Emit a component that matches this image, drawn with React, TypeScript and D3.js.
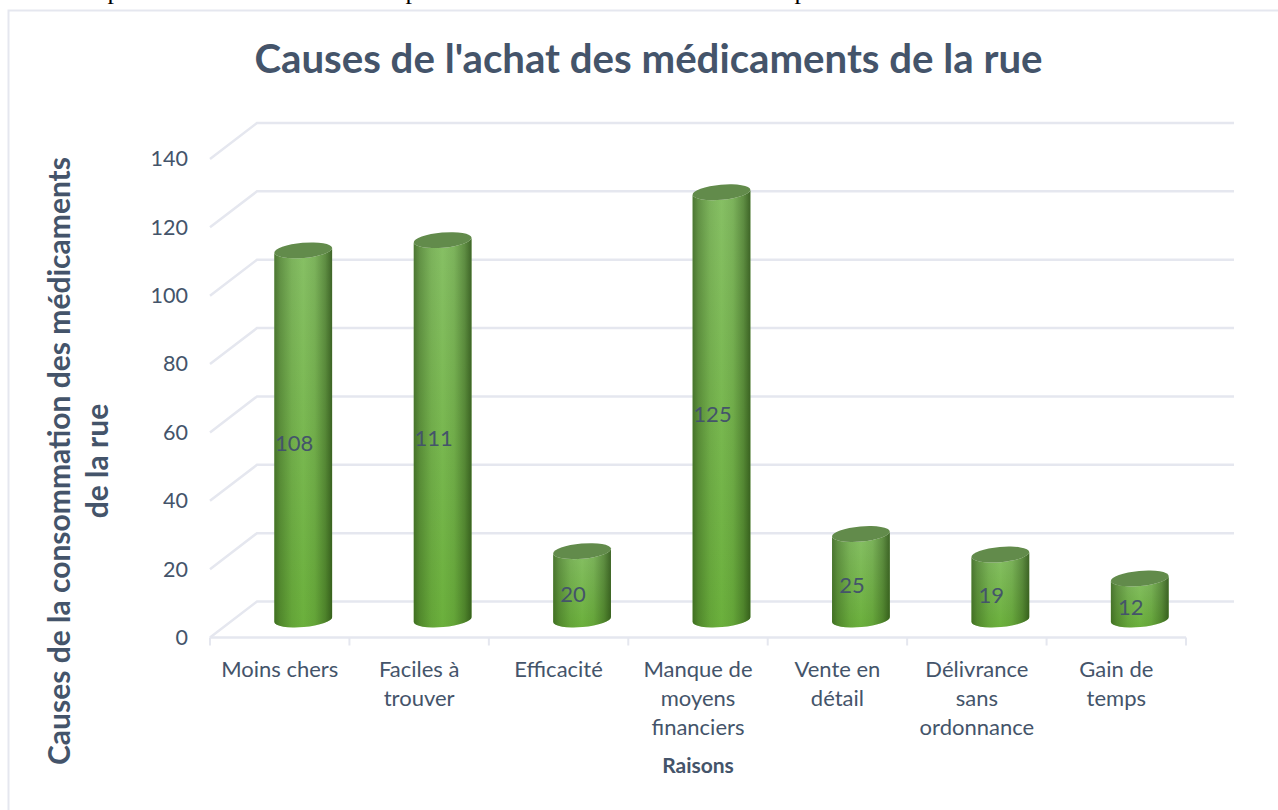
import React, { useEffect, useRef } from "react";
import * as d3 from "d3";

const categories = [
  "Moins chers",
  "Faciles à|trouver",
  "Efficacité",
  "Manque de|moyens|financiers",
  "Vente en|détail",
  "Délivrance|sans|ordonnance",
  "Gain de|temps",
];
const values = [108, 111, 20, 125, 25, 19, 12];
const yTicks = [0, 20, 40, 60, 80, 100, 120, 140];
const topFragments = [114, 412, 801];

const title = "Causes de l'achat des médicaments de la rue";
const yTitleLines = ["Causes de la consommation des médicaments", "de la rue"];
const xTitle = "Raisons";

const textColor = "#44546a";
const gridColor = "#e5e7ef";
const font = "Lato, Carlito, sans-serif";

export default function App() {
  const ref = useRef<SVGSVGElement>(null);

  useEffect(() => {
    draw();
  }, []);

  let draw = () => {
    let svg = d3.select(ref.current);
    svg.selectAll("*").remove();

    // front plane of the 3D box, the back wall is shifted by depth
    let left = 210;
    let right = 1186;
    let bottom = 637.5;
    let top = 159;
    let depthX = 47;
    let depthY = -36;

    let x = d3.scaleBand().domain(categories).range([left, right]);
    let y = d3.scaleLinear().domain([0, 140]).range([bottom, top]);

    let defs = svg.append("defs");
    let base = defs
      .append("linearGradient")
      .attr("id", "barBase")
      .attr("x1", 0)
      .attr("y1", 0)
      .attr("x2", 0)
      .attr("y2", 1);
    base.append("stop").attr("offset", "0%").attr("stop-color", "#87c065");
    base.append("stop").attr("offset", "100%").attr("stop-color", "#6bb03c");

    let shade = defs.append("linearGradient").attr("id", "barShade");
    [
      [0, 0.55],
      [0.1, 0.34],
      [0.3, 0.1],
      [0.5, 0],
      [0.7, 0.1],
      [0.88, 0.38],
      [1, 0.68],
    ].forEach(([o, a]) => {
      shade
        .append("stop")
        .attr("offset", o)
        .attr("stop-color", "#1d3a0c")
        .attr("stop-opacity", a);
    });

    // frame, runs off the right and bottom of the page
    svg
      .append("path")
      .attr("d", "M1278,10.5H8.5V810")
      .attr("fill", "none")
      .attr("stroke", gridColor)
      .attr("stroke-width", 2);

    // cut off line of the page text above the chart
    svg
      .append("g")
      .selectAll("text")
      .data(topFragments)
      .enter()
      .append("text")
      .attr("x", (d) => d)
      .attr("y", -1)
      .attr("text-anchor", "middle")
      .attr("font-family", "Liberation Serif")
      .attr("font-size", 26)
      .attr("fill", "#000")
      .text("p");

    svg
      .append("text")
      .attr("x", 648.5)
      .attr("y", 73)
      .attr("text-anchor", "middle")
      .attr("font-family", font)
      .attr("font-weight", 700)
      .attr("font-size", 40.2)
      .attr("fill", textColor)
      .text(title);

    // gridlines: side wall and back wall
    let grid = svg
      .append("g")
      .attr("fill", "none")
      .attr("stroke", gridColor)
      .attr("stroke-width", 2.5);
    grid
      .selectAll("path")
      .data(yTicks)
      .enter()
      .append("path")
      .attr(
        "d",
        (d) =>
          `M${left},${y(d)}L${left + depthX},${y(d) + depthY}H${right + 48}`
      );

    // y axis labels
    let yAxis = svg
      .append("g")
      .attr("transform", `translate(${left - 22},0)`)
      .call(d3.axisLeft(y).tickValues(yTicks).tickSize(0).tickPadding(0));
    yAxis.select(".domain").remove();
    yAxis
      .selectAll("text")
      .attr("font-family", font)
      .attr("font-size", 21.5)
      .attr("fill", textColor);

    // x axis line and ticks at the band edges
    let edges = categories.map((c) => x(c) as number).concat([right]);
    svg
      .append("path")
      .attr("d", `M${left},${bottom}H${right}`)
      .attr("stroke", gridColor)
      .attr("stroke-width", 2.5);
    svg
      .append("g")
      .selectAll("line")
      .data(edges)
      .enter()
      .append("line")
      .attr("x1", (d) => d)
      .attr("x2", (d) => d)
      .attr("y1", bottom)
      .attr("y2", bottom + 8)
      .attr("stroke", gridColor)
      .attr("stroke-width", 2);

    let xAxis = svg
      .append("g")
      .attr("transform", `translate(0,${bottom})`)
      .call(d3.axisBottom(x).tickSize(0).tickPadding(0));
    xAxis.select(".domain").remove();
    xAxis.selectAll(".tick text").each(function (d) {
      let t = d3.select(this);
      t.text(null)
        .attr("y", 0)
        .attr("dy", null)
        .attr("font-family", font)
        .attr("font-size", 22)
        .attr("fill", textColor);
      (d as string).split("|").forEach((line, i) => {
        t.append("tspan")
          .attr("x", 0)
          .attr("y", 39.5 + i * 29)
          .text(line);
      });
    });

    // cylinders
    let rx = 29;
    let ry = 7.6;
    let tilt = -5;
    let dx = rx * Math.cos((tilt * Math.PI) / 180);
    let dy = rx * Math.sin((tilt * Math.PI) / 180);
    let bars = svg
      .append("g")
      .selectAll("g")
      .data(categories.map((c, i) => ({ c, v: values[i] })))
      .enter()
      .append("g");

    let cx = (d) => (x(d.c) as number) + x.bandwidth() / 2 + depthX / 2;
    let bodyPath = (d) => {
      let c = cx(d);
      let b = y(0) + depthY / 2;
      let t = y(d.v) + depthY / 2;
      return (
        `M${c - dx},${t - dy}L${c - dx},${b - dy}` +
        `A${rx},${ry} ${tilt} 0 0 ${c + dx},${b + dy}` +
        `L${c + dx},${t + dy}` +
        `A${rx},${ry} ${tilt} 0 1 ${c - dx},${t - dy}Z`
      );
    };
    bars.append("path").attr("d", bodyPath).attr("fill", "url(#barBase)");
    bars.append("path").attr("d", bodyPath).attr("fill", "url(#barShade)");
    bars
      .append("ellipse")
      .attr("rx", rx)
      .attr("ry", ry)
      .attr(
        "transform",
        (d) => `translate(${cx(d)},${y(d.v) + depthY / 2}) rotate(${tilt})`
      )
      .attr("fill", "#628b4b");

    bars
      .append("text")
      .attr("x", (d) => cx(d) - 9)
      .attr("y", (d) => y(d.v / 2) - 9.5)
      .attr("dy", "0.35em")
      .attr("text-anchor", "middle")
      .attr("font-family", font)
      .attr("font-size", 22)
      .attr("fill", textColor)
      .text((d) => d.v);

    // axis titles
    let yTitle = svg
      .append("text")
      .attr("transform", "translate(79,461) rotate(-90)")
      .attr("text-anchor", "middle")
      .attr("font-family", font)
      .attr("font-weight", 700)
      .attr("font-size", 30)
      .attr("fill", textColor);
    yTitleLines.forEach((line, i) => {
      yTitle
        .append("tspan")
        .attr("x", 0)
        .attr("y", -9 + i * 38)
        .text(line);
    });

    svg
      .append("text")
      .attr("x", 698)
      .attr("y", 773)
      .attr("text-anchor", "middle")
      .attr("font-family", font)
      .attr("font-weight", 700)
      .attr("font-size", 21)
      .attr("fill", textColor)
      .text(xTitle);
  };

  return (
    <svg
      ref={ref}
      width={1278}
      height={810}
      style={{ position: "absolute", left: 0, top: 0, background: "#fff" }}
    />
  );
}
